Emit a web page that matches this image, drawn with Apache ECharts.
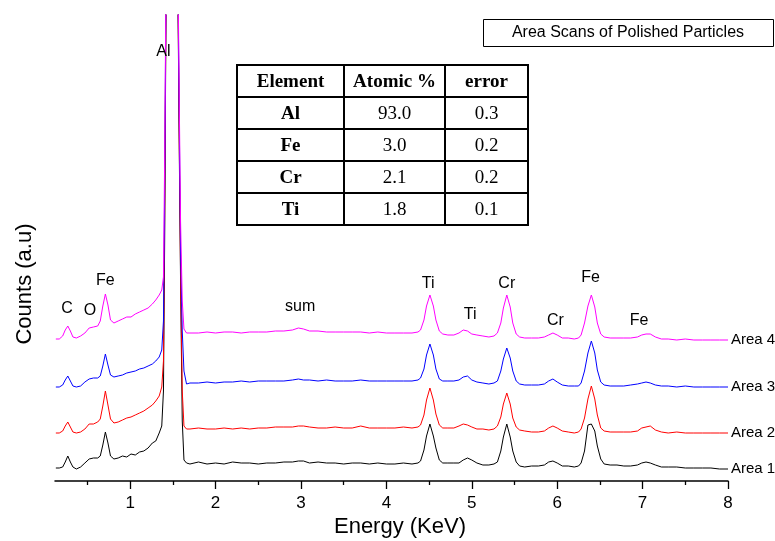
<!DOCTYPE html>
<html>
<head>
<meta charset="utf-8">
<script src="https://cdn.jsdelivr.net/npm/echarts@6/dist/echarts.min.js"></script>
<style>
html,body{margin:0;padding:0;background:#fff;}
#chart{width:775px;height:541px;}
</style>
</head>
<body>
<div id="chart"></div>
<script>
// ---- Data (energy in KeV, counts in arbitrary units, spectra already offset as plotted) ----
const energies = [
  0.13,0.17,0.21,0.24,0.27,0.30,0.33,0.37,0.42,0.47,
  0.52,0.57,0.62,0.65,0.68,0.71,0.74,0.77,0.81,0.86,
  0.91,0.96,1.01,1.06,1.11,1.16,1.21,1.26,1.30,1.34,
  1.37,1.39,1.405,1.42,1.49,1.56,1.575,1.59,1.61,1.63,
  1.66,1.70,1.80,1.90,2.00,2.10,2.20,2.30,2.40,2.50,
  2.60,2.70,2.80,2.90,2.97,3.03,3.10,3.20,3.30,3.40,
  3.50,3.60,3.70,3.80,3.90,4.00,4.10,4.20,4.30,4.37,
  4.40,4.44,4.47,4.51,4.55,4.58,4.62,4.66,4.72,4.79,
  4.85,4.90,4.95,5.00,5.06,5.13,5.20,5.26,5.30,5.34,
  5.37,5.41,5.45,5.48,5.52,5.56,5.62,5.70,5.78,5.85,
  5.90,5.95,6.00,6.06,6.13,6.20,6.25,6.28,6.32,6.36,
  6.40,6.44,6.47,6.51,6.55,6.62,6.70,6.78,6.86,6.94,
  6.99,7.04,7.09,7.15,7.22,7.30,7.40,7.50,7.60,7.70,
  7.80,7.90,8.00
];
const area1 = [
  13,13,14,19,25,19,14,12,14,18,
  22,23,23,25,36,49,38,25,22,23,
  25,24,27,26,29,30,33,38,40,48,
  55,90,250,480,3000,480,330,200,60,21,
  18,17,19,17,18,17,19,18,18,17,
  18,18,19,19,20,20,18,19,18,18,
  17,18,18,17,18,17,17,18,17,18,
  20,31,45,57,45,33,21,18,18,18,
  18,21,23,21,18,16,16,17,19,30,
  44,57,44,30,19,15,14,15,15,16,
  19,20,18,15,15,14,15,18,30,56,
  57,50,35,22,17,16,16,15,15,16,
  18,19,18,16,14,14,14,13,13,13,
  13,12,12
];
const area2 = [
  48,48,50,55,59,54,49,48,49,52,
  57,57,59,62,75,90,76,62,58,59,
  61,63,64,66,68,70,73,76,80,85,
  94,120,280,490,3000,490,340,210,90,55,
  52,52,53,52,52,53,52,53,52,53,
  53,54,54,54,55,55,54,53,53,54,
  53,53,55,53,53,53,53,54,53,54,
  56,66,81,93,81,67,56,53,53,53,
  55,57,56,54,52,52,51,52,55,64,
  77,88,77,63,54,51,50,49,49,50,
  53,55,53,50,49,48,49,52,63,82,
  95,82,66,53,50,49,49,49,49,50,
  53,54,55,51,49,48,49,48,48,48,
  48,48,48
];
const area3 = [
  94,94,96,101,105,100,95,94,95,99,
  102,103,103,105,115,127,116,106,104,105,
  106,108,109,110,112,113,115,117,120,124,
  131,160,300,500,3000,500,360,230,150,110,
  97,98,98,99,98,99,99,100,99,100,
  100,100,100,101,102,101,101,100,101,100,
  100,100,101,100,100,100,100,100,100,101,
  103,112,126,137,126,112,102,100,100,100,
  101,104,105,101,99,98,97,98,100,110,
  122,133,123,110,100,97,96,96,96,97,
  100,102,99,96,95,95,95,98,110,128,
  140,128,111,99,96,95,95,95,96,97,
  98,99,98,96,95,95,94,95,94,94,
  94,94,94
];
const area4 = [
  142,142,145,151,155,150,144,143,145,148,
  153,154,155,160,175,187,176,161,158,160,
  162,164,164,167,169,171,173,177,181,186,
  191,204,330,510,3000,510,380,260,180,152,
  148,148,148,149,148,149,149,148,149,149,
  149,150,150,151,153,152,150,150,149,149,
  149,149,149,148,149,148,148,148,148,149,
  151,161,175,186,175,161,150,147,146,146,
  148,151,150,147,146,145,144,145,148,158,
  173,186,174,158,147,144,143,143,143,144,
  146,148,146,143,143,142,143,146,158,175,
  186,174,158,147,144,143,143,143,143,144,
  146,147,147,144,142,142,141,142,141,141,
  141,141,141
];
const seriesNames = ['Area 1','Area 2','Area 3','Area 4'];
const majorTicks = [1,2,3,4,5,6,7,8];
const minorTicks = [0.5,1.5,2.5,3.5,4.5,5.5,6.5,7.5];

// peak annotations
const peakLabelText   = ['C','O','Fe','Al','sum','Ti','Ti','Cr','Cr','Fe','Fe'];
const peakLabelEnergy = [0.26,0.53,0.71,1.39,2.99,4.49,4.98,5.41,5.98,6.39,6.96];
const peakLabelHeight = [172,170,200,429,174,197,166,197,160,203,160];

// inset table
const tableHeader   = ['Element','Atomic %','error'];
const tableElements = ['Al','Fe','Cr','Ti'];
const tableAtomic   = ['93.0','3.0','2.1','1.8'];
const tableError    = ['0.3','0.2','0.2','0.1'];

const legendTitle = 'Area Scans of Polished Particles';
const xTitle = 'Energy (KeV)';
const yTitle = 'Counts (a.u)';

// ---- Chart ----
const SANS = "'Liberation Sans', Arial, Helvetica, sans-serif";
const SERIF = "'Liberation Serif', 'Times New Roman', serif";
const colors = ['#000000','#ff0000','#0000ff','#ff00ff'];
const chart = echarts.init(document.getElementById('chart'), null, {renderer:'canvas'});

const spectra = [area1, area2, area3, area4];
const lineSeries = spectra.map((arr, k) => ({
  name: seriesNames[k],
  type: 'line',
  xAxisIndex: 0,
  data: energies.map((e, i) => [e, arr[i]]),
  showSymbol: false,
  symbol: 'none',
  clip: true,
  lineStyle: {color: colors[k], width: 1},
  itemStyle: {color: colors[k]},
  endLabel: {show: true, formatter: '{a}', color: '#000', fontSize: 15, fontFamily: SANS, distance: 3},
  silent: true,
  z: 2 + k
}));

const labelSeries = {
  type: 'scatter',
  xAxisIndex: 0,
  symbolSize: 1,
  itemStyle: {color: 'rgba(0,0,0,0)', opacity: 1},
  silent: true,
  z: 10,
  data: peakLabelText.map((t, i) => ({name: t, value: [peakLabelEnergy[i], peakLabelHeight[i]]})),
  label: {show: true, position: 'inside', formatter: p => p.name, color: '#000', opacity: 1, fontSize: 16, fontFamily: SANS}
};

// table graphic
const colX = [237, 344, 445, 528];
const rowY = [65, 97, 129, 161, 193, 225];
const tableEls = [];
tableEls.push({type:'rect', shape:{x:colX[0], y:rowY[0], width:colX[3]-colX[0], height:rowY[5]-rowY[0]},
  style:{fill:'#fff', stroke:'#000', lineWidth:2}});
for (let r = 1; r < rowY.length - 1; r++) {
  tableEls.push({type:'line', shape:{x1:colX[0], y1:rowY[r], x2:colX[3], y2:rowY[r]}, style:{stroke:'#000', lineWidth:2}});
}
for (let c = 1; c < colX.length - 1; c++) {
  tableEls.push({type:'line', shape:{x1:colX[c], y1:rowY[0], x2:colX[c], y2:rowY[5]}, style:{stroke:'#000', lineWidth:2}});
}
function cellText(txt, c, r, bold) {
  return {type:'text', x:(colX[c]+colX[c+1])/2, y:(rowY[r]+rowY[r+1])/2 + 1,
    style:{text:txt, fill:'#000', font:(bold?'bold ':'') + '19px ' + SERIF,
      align:'center', verticalAlign:'middle', textAlign:'center', textVerticalAlign:'middle'}};
}
tableHeader.forEach((h, c) => tableEls.push(cellText(h, c, 0, true)));
tableElements.forEach((el, i) => {
  tableEls.push(cellText(el, 0, i+1, true));
  tableEls.push(cellText(tableAtomic[i], 1, i+1, false));
  tableEls.push(cellText(tableError[i], 2, i+1, false));
});

const option = {
  animation: false,
  backgroundColor: '#fff',
  grid: {left: 55, right: 47, top: 15, bottom: 60, containLabel: false},
  xAxis: [
    {
      type: 'value', min: 0.12, max: 8, position: 'bottom',
      axisLine: {show: true, lineStyle: {color: '#000', width: 1.5}},
      axisTick: {show: true, length: 8, inside: false, customValues: majorTicks, lineStyle: {color: '#000', width: 1.3}},
      axisLabel: {show: true, customValues: majorTicks, color: '#000', fontSize: 17, fontFamily: SANS, margin: 14},
      splitLine: {show: false}
    },
    {
      type: 'value', min: 0.12, max: 8, position: 'bottom',
      axisLine: {show: false},
      axisTick: {show: true, length: 4, inside: false, customValues: minorTicks, lineStyle: {color: '#000', width: 1.3}},
      axisLabel: {show: false},
      splitLine: {show: false}
    }
  ],
  yAxis: {type: 'value', min: 0, max: 466, show: false},
  series: [...lineSeries, labelSeries],
  graphic: [
    {type:'group', children: tableEls},
    {type:'rect', shape:{x:483.5, y:19.5, width:290, height:27}, style:{fill:'#fff', stroke:'#000', lineWidth:1}},
    {type:'text', x:628, y:33, style:{text:legendTitle, fill:'#000', font:'16px ' + SANS,
      align:'center', verticalAlign:'middle', textAlign:'center', textVerticalAlign:'middle'}},
    {type:'text', x:400, y:527, style:{text:xTitle, fill:'#000', font:'22px ' + SANS,
      align:'center', verticalAlign:'middle', textAlign:'center', textVerticalAlign:'middle'}},
    {type:'text', x:25, y:284, rotation: Math.PI/2, style:{text:yTitle, fill:'#000', font:'22px ' + SANS,
      align:'center', verticalAlign:'middle', textAlign:'center', textVerticalAlign:'middle'}}
  ]
};
chart.setOption(option);
</script>
</body>
</html>
